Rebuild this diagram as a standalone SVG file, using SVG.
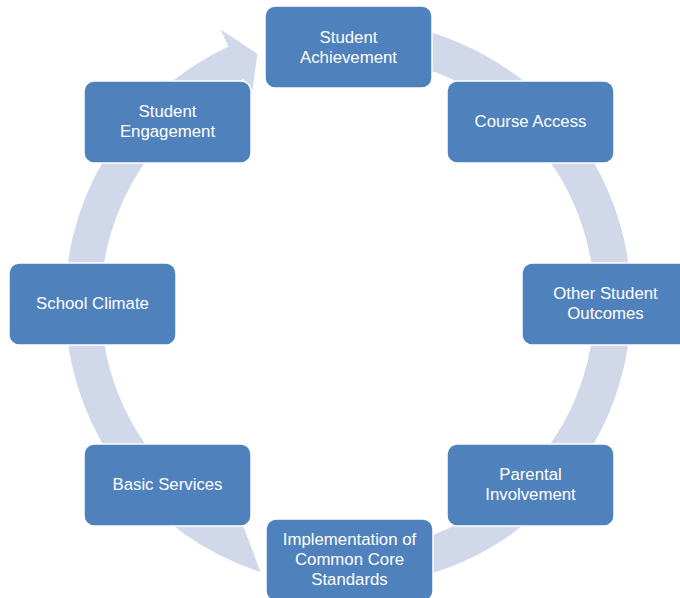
<svg xmlns="http://www.w3.org/2000/svg" width="680" height="598" viewBox="0 0 680 598">
<style>
.ring{fill:#D0D8E9;stroke:none}
.node rect{fill:#4F81BD;stroke:#FFFFFF;stroke-width:1.5}
.node text{fill:#FFFFFF;font-family:"Liberation Sans",Arial,sans-serif;font-size:16.8px;text-anchor:middle}
</style>
<rect width="680" height="598" fill="#FFFFFF"/>
<g id="connectors">
<path class="ring" d="M 348,20 A 283 283 0 1 1 323.3,584.9 L 326.5,549.1 A 247 247 0 1 0 348,56 Z"/>
<path class="ring" d="M 260.5,572.1 A 283 283 0 0 1 228.4,46.5 L 220.4,29.3 L 257.4,54 L 251.6,96.4 L 243.6,79.1 A 247 247 0 0 0 243.6,526.9 Z"/>
</g>
<g id="node-student-achievement" class="node">
<rect x="265" y="6" width="167" height="82" rx="10"/>
<text x="348.5" y="43">Student</text>
<text x="348.5" y="63">Achievement</text>
</g>
<g id="node-course-access" class="node">
<rect x="447" y="81" width="167" height="82" rx="10"/>
<text x="530.5" y="127">Course Access</text>
</g>
<g id="node-other-student-outcomes" class="node">
<rect x="522" y="263" width="167" height="82" rx="10"/>
<text x="605.5" y="299">Other Student</text>
<text x="605.5" y="319">Outcomes</text>
</g>
<g id="node-parental-involvement" class="node">
<rect x="447" y="444" width="167" height="82" rx="10"/>
<text x="530.5" y="480">Parental</text>
<text x="530.5" y="500">Involvement</text>
</g>
<g id="node-implementation" class="node">
<rect x="266" y="519" width="167" height="82" rx="10"/>
<text x="349.5" y="545">Implementation of</text>
<text x="349.5" y="565">Common Core</text>
<text x="349.5" y="585">Standards</text>
</g>
<g id="node-basic-services" class="node">
<rect x="84" y="444" width="167" height="82" rx="10"/>
<text x="167.5" y="490">Basic Services</text>
</g>
<g id="node-school-climate" class="node">
<rect x="9" y="263" width="167" height="82" rx="10"/>
<text x="92.5" y="309">School Climate</text>
</g>
<g id="node-student-engagement" class="node">
<rect x="84" y="81" width="167" height="82" rx="10"/>
<text x="167.5" y="117">Student</text>
<text x="167.5" y="137">Engagement</text>
</g>
</svg>
